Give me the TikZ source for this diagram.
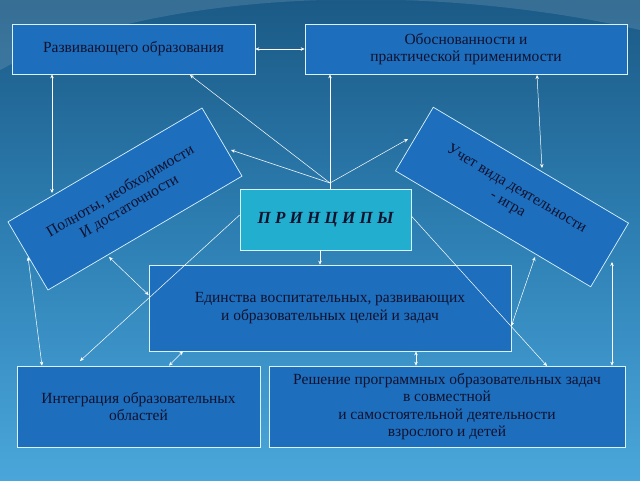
\documentclass[tikz,border=0pt]{standalone}
\usepackage{fontspec}
\setmainfont{Liberation Serif}
\usetikzlibrary{arrows.meta}
\definecolor{bgtop}{HTML}{1B5A86}
\definecolor{bgmid}{HTML}{2E80B4}
\definecolor{bgbot}{HTML}{4AA6DA}
\definecolor{boxblue}{HTML}{1E6EBE}
\definecolor{boxcyan}{HTML}{22AECF}
\definecolor{inkdark}{HTML}{10122E}
\begin{document}
\begin{tikzpicture}[x=1pt, y=-1pt,
    every node/.style={font=\fontsize{15.5}{17.5}\selectfont, text=inkdark, align=center},
    pbox/.style={draw=white!85!cyan, line width=0.7pt, fill=boxblue, inner sep=0pt},
    link/.style={draw=white, line width=0.5pt, -{Stealth[length=4pt,width=3.5pt]}},
    dlink/.style={link, {Stealth[length=4pt,width=3.5pt]}-{Stealth[length=4pt,width=3.5pt]}}]
    % background
    \useasboundingbox (0,0) rectangle (640,480);
    \shade[top color=bgtop, bottom color=bgbot, middle color=bgmid] (0,0) rectangle (640,480);
    \fill[white, opacity=0.12] (0,70) .. controls (150,-10) and (420,-20) .. (640,30) -- (640,0) -- (0,0) -- cycle;

    % boxes
    \node[pbox, minimum width=243, minimum height=50] (razv) at (133.5,49) {Развивающего образования};
    \node[pbox, minimum width=322, minimum height=50] (obosn) at (466,49) {Обоснованности и\\практической применимости};
    \node[pbox, fill=boxcyan, minimum width=171, minimum height=61] (princ) at (325.5,219.5)
        {\fontsize{17}{19}\selectfont\bfseries\itshape П Р И Н Ц И П Ы};
    \node[pbox, minimum width=225, minimum height=79, rotate=30.4] (poln) at (125,199)
        {Полноты, необходимости\\И достаточности};
    \node[pbox, minimum width=227, minimum height=74, rotate=-30.7] (uchet) at (512,197)
        {Учет вида деятельности\\- игра};
    \node[pbox, minimum width=362, minimum height=86] (edin) at (330,308)
        {Единства воспитательных, развивающих\\и образовательных целей и задач};
    \node[pbox, minimum width=243, minimum height=81] (integr) at (138.5,406.5)
        {Интеграция образовательных\\областей};
    \node[pbox, minimum width=356, minimum height=81] (resh) at (447,406.5)
        {Решение программных образовательных задач\\в совместной\\и самостоятельной деятельности\\взрослого и детей};

    % connector ends
    \coordinate (apex) at (330,183);
    \coordinate (razvS) at (190,75);
    \coordinate (polnT) at (231,150);
    \coordinate (uchetT) at (408,139);
    \coordinate (polnA) at (52,193);
    \coordinate (obosnS) at (537,75);
    \coordinate (uchetA) at (542,168);
    \coordinate (polnB1) at (28,257);
    \coordinate (polnB2) at (109,257);
    \coordinate (uchetB1) at (535,257);
    \coordinate (uchetB2) at (612,262);

    % connectors
    \draw[dlink] (razv.east) -- (obosn.west);
    \draw[dlink] (razv.south -| polnA) -- (polnA);
    \draw[dlink] (obosnS) -- (uchetA);
    \draw[draw=white, line width=0.5pt] (apex) -- (princ.north -| apex);
    \draw[link] (apex) -- (razvS);
    \draw[link] (apex) -- (obosn.south -| apex);
    \draw[link] (apex) -- (polnT);
    \draw[link] (apex) -- (uchetT);
    \draw[link] (princ.south -| 320,0) -- (edin.north -| 320,0);
    \draw[link] (princ.west |- 0,215) -- (80,361);
    \draw[link] (princ.east |- 0,216) -- (547,366);
    \draw[dlink] (polnB1) -- (integr.north -| 42,0);
    \draw[dlink] (polnB2) -- (edin.west |- 0,295);
    \draw[dlink] (edin.south -| 183,0) -- (integr.north -| 169,0);
    \draw[dlink] (edin.south -| 416,0) -- (resh.north -| 416,0);
    \draw[dlink] (uchetB1) -- (edin.east |- 0,326);
    \draw[dlink] (uchetB2) -- (resh.north -| 612,0);
\end{tikzpicture}
\end{document}
